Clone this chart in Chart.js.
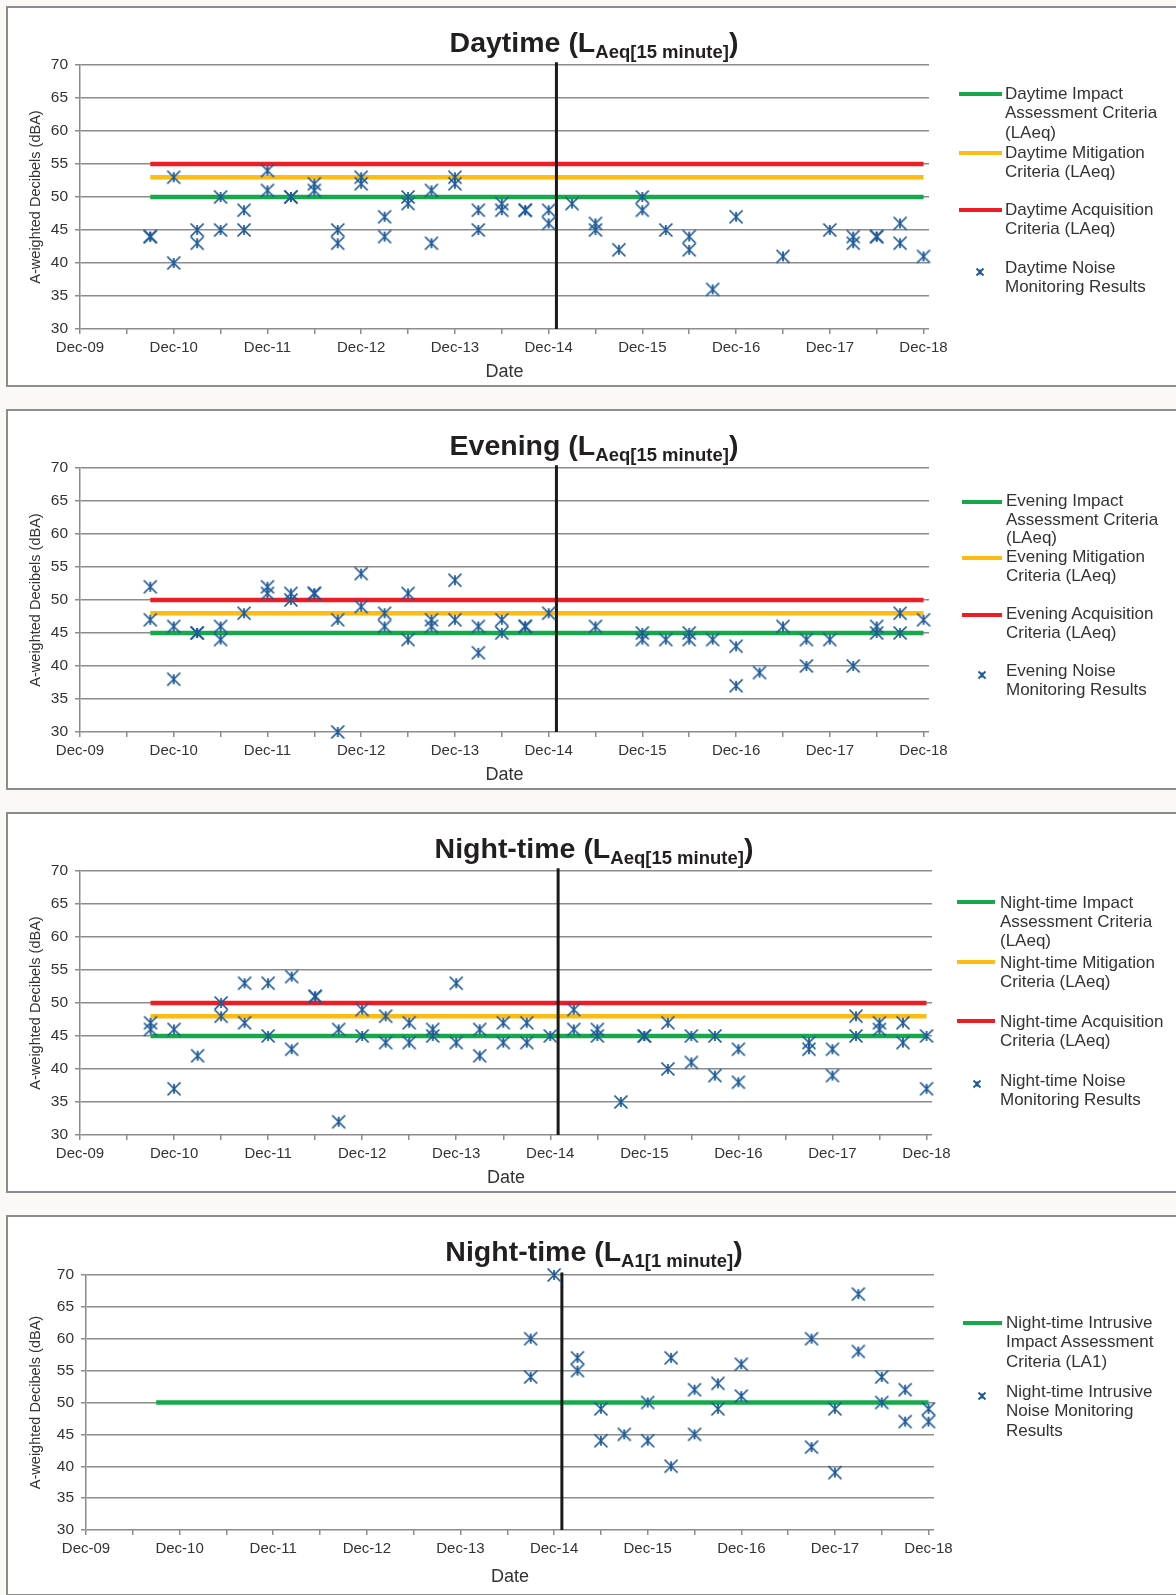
<!DOCTYPE html>
<html>
<head>
<meta charset="utf-8">
<script src="https://cdn.jsdelivr.net/npm/chart.js@4.4.0/dist/chart.umd.min.js"></script>
<style>
  body { margin: 0; background: #faf9f6; width: 1176px; height: 1595px; overflow: hidden; position: relative;
         font-family: "Liberation Sans", Arial, sans-serif; color: #333; }
  .panel { position: absolute; left: 6px; width: 1190px; height: 377px; background: #fff; border: 2px solid #8c8c8c; }
  canvas { position: absolute; left: 0; }
  .title { position: absolute; left: 0; width: 1188px; text-align: center; font-weight: bold; font-size: 28.5px;
           line-height: 28px; color: #231f20; white-space: nowrap; }
  .title span { font-size: 18.5px; position: relative; top: 6px; }
  .lg-text { position: absolute; font-size: 17px; color: #333; white-space: pre; }
  .lg-line { position: absolute; height: 4px; }
  .lg-mark { position: absolute; }
</style>
</head>
<body>
<script>
// x values are months counted from Dec-09 (Sep-10 = 9, Dec-10 = 12 ...)
const xTickMonths = [0, 6, 12, 18, 24, 30, 36, 42, 48, 54, 60, 66, 72, 78, 84, 90, 96, 102, 108];
const xTickLabels = ['Dec-09', 'Dec-10', 'Dec-11', 'Dec-12', 'Dec-13', 'Dec-14', 'Dec-15', 'Dec-16', 'Dec-17', 'Dec-18'];

const criteriaFrom = 9;    // Sep-10
const criteriaTo = 108;    // Dec-18
const changeMonth = 61;    // black marker line, just after Dec-14

// Daytime LAeq(15 minute)
const dayMonth = [9, 9, 12, 12, 15, 15, 18, 18, 21, 21, 24, 24, 27, 27, 30, 30, 33, 33, 36, 36, 39, 39, 42, 42, 45, 45,
  48, 48, 51, 51, 54, 54, 57, 57, 60, 60, 63, 66, 66, 69, 72, 72, 75, 78, 78, 81, 84, 90, 96, 99, 99, 102, 102, 105, 105, 108];
const dayLevel = [44, 44, 53, 40, 45, 43, 50, 45, 48, 45, 54, 51, 50, 50, 52, 51, 45, 43, 53, 52, 47, 44, 50, 49, 51, 43,
  53, 52, 48, 45, 49, 48, 48, 48, 48, 46, 49, 46, 45, 42, 50, 48, 45, 44, 42, 36, 47, 41, 45, 44, 43, 44, 44, 46, 43, 41];
const dayCriteria = [50, 53, 55];   // impact, mitigation, acquisition

// Evening LAeq(15 minute)
const eveMonth = [9, 9, 12, 12, 15, 15, 18, 18, 21, 24, 24, 27, 27, 30, 30, 33, 33, 36, 36, 39, 39, 42, 42, 45, 45, 48, 48,
  51, 51, 54, 54, 57, 57, 60, 66, 72, 72, 75, 78, 78, 81, 84, 84, 87, 90, 93, 93, 96, 99, 102, 102, 105, 105, 108];
const eveLevel = [52, 47, 46, 38, 45, 45, 46, 44, 48, 52, 51, 51, 50, 51, 51, 47, 30, 54, 49, 48, 46, 51, 44, 47, 46, 53, 47,
  46, 42, 47, 45, 46, 46, 48, 46, 45, 44, 44, 45, 44, 44, 43, 37, 39, 46, 44, 40, 44, 40, 46, 45, 48, 45, 47];
const eveCriteria = [45, 48, 50];

// Night-time LAeq(15 minute)
const nightMonth = [9, 9, 12, 12, 15, 18, 18, 21, 21, 24, 24, 27, 27, 30, 30, 33, 33, 36, 36, 39, 39, 42, 42, 45, 45, 48, 48,
  51, 51, 54, 54, 57, 57, 60, 63, 63, 66, 66, 69, 72, 72, 75, 75, 78, 78, 81, 81, 84, 84, 93, 93, 96, 96, 99, 99, 102, 102,
  105, 105, 108, 108];
const nightLevel = [47, 46, 46, 37, 42, 50, 48, 53, 47, 53, 45, 54, 43, 51, 51, 46, 32, 49, 45, 48, 44, 47, 44, 46, 45, 53, 44,
  46, 42, 47, 44, 47, 44, 45, 49, 46, 46, 45, 35, 45, 45, 47, 40, 45, 41, 45, 39, 43, 38, 44, 43, 43, 39, 48, 45, 47, 46,
  47, 44, 45, 37];
const nightCriteria = [45, 48, 50];

// Night-time LA1(1 minute)
const la1Month = [57, 57, 60, 63, 63, 66, 66, 69, 72, 72, 75, 75, 78, 78, 81, 81, 84, 84, 93, 93, 96, 96, 99, 99, 102, 102,
  105, 105, 108, 108];
const la1Level = [60, 54, 70, 57, 55, 49, 44, 45, 50, 44, 57, 40, 52, 45, 53, 49, 56, 51, 60, 43, 49, 39, 67, 58, 54, 50,
  52, 47, 49, 47];
const la1Criteria = [50];

const dayLabels = ['Daytime Impact\nAssessment Criteria\n(LAeq)', 'Daytime Mitigation\nCriteria (LAeq)',
  'Daytime Acquisition\nCriteria (LAeq)', 'Daytime Noise\nMonitoring Results'];
const eveLabels = ['Evening Impact\nAssessment Criteria\n(LAeq)', 'Evening Mitigation\nCriteria (LAeq)',
  'Evening Acquisition\nCriteria (LAeq)', 'Evening Noise\nMonitoring Results'];
const nightLabels = ['Night-time Impact\nAssessment Criteria\n(LAeq)', 'Night-time Mitigation\nCriteria (LAeq)',
  'Night-time Acquisition\nCriteria (LAeq)', 'Night-time Noise\nMonitoring Results'];
const la1Labels = ['Night-time Intrusive\nImpact Assessment\nCriteria (LA1)', 'Night-time Intrusive\nNoise Monitoring\nResults'];

const criteriaColors = ['#17a84b', '#fdbb14', '#ee1c25'];
const markColor = '#1d5a99';
const gridColor = '#8c8c8c';

Chart.defaults.font.family = '"Liberation Sans", Arial, sans-serif';
Chart.defaults.color = '#333';

function starMarker() {
  const c = document.createElement('canvas');
  c.width = 16; c.height = 16;
  const ctx = c.getContext('2d');
  ctx.strokeStyle = markColor;
  ctx.lineWidth = 1.75;
  ctx.beginPath();
  ctx.moveTo(1.5, 1.5); ctx.lineTo(14.5, 14.5);
  ctx.moveTo(14.5, 1.5); ctx.lineTo(1.5, 14.5);
  ctx.moveTo(8, 3); ctx.lineTo(8, 13);
  ctx.stroke();
  return c;
}
const star = starMarker();

const panels = [
  { top: 6, plotTop: 65, plotBottom: 329, plotLeft: 80, plotRight: 929, datePad: 4,
    name: 'Daytime', sub: 'Aeq[15 minute]', months: dayMonth, levels: dayLevel, criteria: dayCriteria, labels: dayLabels,
    lgText: 1005, lgLine: [959, 1002], lgMark: 980, lgRows: [93.6, 152.6, 209.6, 267.5], lgLh: 19.3 },
  { top: 409, plotTop: 468, plotBottom: 732, plotLeft: 80, plotRight: 929, datePad: 4,
    name: 'Evening', sub: 'Aeq[15 minute]', months: eveMonth, levels: eveLevel, criteria: eveCriteria, labels: eveLabels,
    lgText: 1006, lgLine: [962, 1002], lgMark: 982, lgRows: [501.5, 557.5, 614.5, 671.4], lgLh: 18.5 },
  { top: 812, plotTop: 871, plotBottom: 1135, plotLeft: 80, plotRight: 932, datePad: 4,
    name: 'Night-time', sub: 'Aeq[15 minute]', months: nightMonth, levels: nightLevel, criteria: nightCriteria, labels: nightLabels,
    lgText: 1000, lgLine: [957, 995], lgMark: 977, lgRows: [902.3, 962.4, 1021.4, 1080.4], lgLh: 19.3 },
  { top: 1215, plotTop: 1275, plotBottom: 1530, plotLeft: 86, plotRight: 934, datePad: 8,
    name: 'Night-time', sub: 'A1[1 minute]', months: la1Month, levels: la1Level, criteria: la1Criteria, labels: la1Labels,
    lgText: 1006, lgLine: [963, 1002], lgMark: 982, lgRows: [1322.5, 1391.7], lgLh: 19.5 }
];

const CW = 980, CH = 381;

panels.forEach(p => {
  const box = document.createElement('div');
  box.className = 'panel';
  box.style.top = p.top + 'px';
  document.body.appendChild(box);

  const canvas = document.createElement('canvas');
  canvas.width = CW; canvas.height = CH;
  canvas.style.top = p.top + 'px';
  document.body.appendChild(canvas);

  const title = document.createElement('div');
  title.className = 'title';
  title.style.top = (p.top + 45.5 - 23.9) + 'px';
  title.innerHTML = p.name + ' (L<span>' + p.sub + '</span>)';
  document.body.appendChild(title);

  const datasets = [];
  datasets.push({
    label: p.labels[p.labels.length - 1],
    data: p.months.map((m, i) => ({ x: m, y: p.levels[i] })),
    pointStyle: star, pointRadius: 7, showLine: false, clip: false, order: 0
  });
  datasets.push({
    label: 'change',
    data: [{ x: changeMonth, y: 30 }, { x: changeMonth, y: 70.4 }],
    showLine: true, borderColor: '#1a1a1a', borderWidth: 3, pointRadius: 0, clip: false, order: 1
  });
  p.criteria.forEach((v, i) => {
    datasets.push({
      label: p.labels[i],
      data: [{ x: criteriaFrom, y: v }, { x: criteriaTo, y: v }],
      showLine: true, borderColor: criteriaColors[i], borderWidth: 4.5, pointRadius: 0, order: 2
    });
  });

  new Chart(canvas.getContext('2d'), {
    type: 'scatter',
    data: { datasets },
    options: {
      responsive: false,
      animation: false,
      layout: { autoPadding: false, padding: { top: p.plotTop - p.top, right: CW - p.plotRight, left: 0, bottom: 0 } },
      plugins: { legend: { display: false }, tooltip: { enabled: false } },
      scales: {
        x: {
          type: 'linear', min: 0, max: 108.7,
          afterBuildTicks: s => { s.ticks = xTickMonths.map(v => ({ value: v })); },
          afterFit: s => { s.height = CH - (p.plotBottom - p.top); },
          ticks: {
            autoSkip: false, maxRotation: 0, minRotation: 0, padding: 5, color: '#333', font: { size: 15 },
            callback: v => (v % 12 === 0 ? xTickLabels[v / 12] : '')
          },
          grid: { drawOnChartArea: false, drawTicks: true, tickLength: 5, color: gridColor, lineWidth: 1.5 },
          border: { display: false },
          title: { display: true, text: 'Date', color: '#333', font: { size: 18 }, padding: { top: 0, bottom: p.datePad } }
        },
        y: {
          min: 30, max: 70,
          afterFit: s => { s.width = p.plotLeft; },
          ticks: { stepSize: 5, padding: 7, color: '#333', font: { size: 15.5 } },
          grid: { color: gridColor, lineWidth: 1.5, tickLength: 5 },
          border: { color: gridColor, width: 1.5 },
          title: { display: true, text: 'A-weighted Decibels (dBA)', color: '#333', font: { size: 14.5 },
                   padding: { top: 27, bottom: 0 } }
        }
      }
    }
  });

  // legend, built from the same labels and colours
  p.labels.forEach((txt, i) => {
    const cy = p.lgRows[i];
    const isMarks = i === p.labels.length - 1;
    if (isMarks) {
      const m = document.createElement('div');
      m.className = 'lg-mark';
      m.style.left = (p.lgMark - 5) + 'px';
      m.style.top = (cy - 5) + 'px';
      m.innerHTML = '<svg width="10" height="10"><path d="M1.5 1.5L8.5 8.5M8.5 1.5L1.5 8.5M5 2.5V7.5" stroke="' +
        markColor + '" stroke-width="1.8" fill="none"/></svg>';
      document.body.appendChild(m);
    } else {
      const l = document.createElement('div');
      l.className = 'lg-line';
      l.style.left = p.lgLine[0] + 'px';
      l.style.width = (p.lgLine[1] - p.lgLine[0]) + 'px';
      l.style.top = (cy - 2) + 'px';
      l.style.background = criteriaColors[i];
      document.body.appendChild(l);
    }
    const t = document.createElement('div');
    t.className = 'lg-text';
    t.style.left = p.lgText + 'px';
    t.style.top = (cy - p.lgLh / 2) + 'px';
    t.style.lineHeight = p.lgLh + 'px';
    t.textContent = txt;
    document.body.appendChild(t);
  });
});
</script>
</body>
</html>
